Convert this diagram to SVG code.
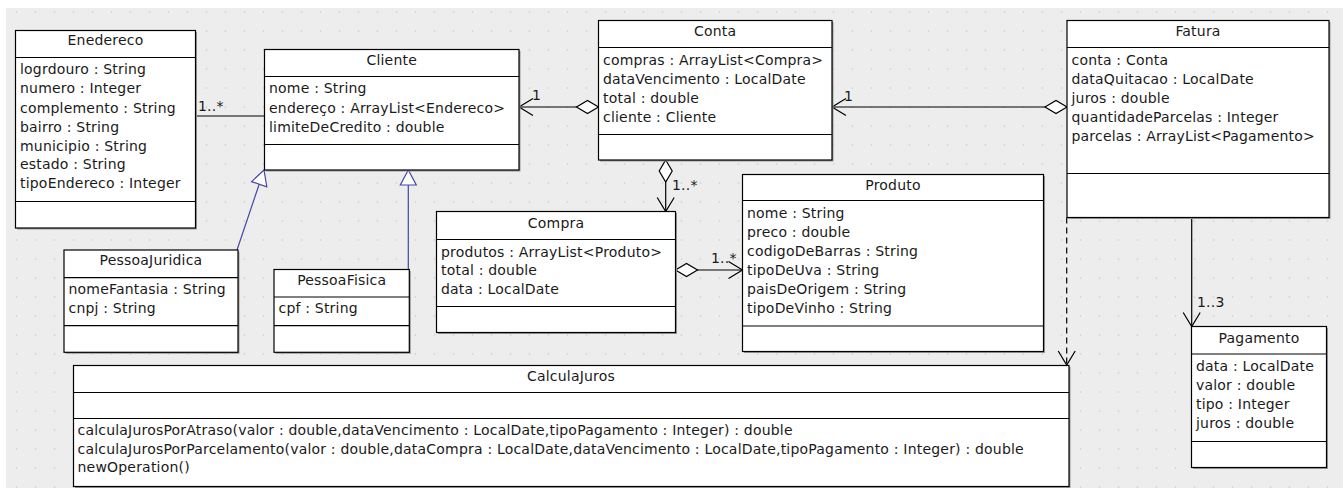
<svg xmlns="http://www.w3.org/2000/svg" width="1343" height="488" viewBox="0 0 1343 488">
<style>
text{font-family:"DejaVu Sans","Liberation Sans",sans-serif;font-size:14px;fill:#1a1a1a;letter-spacing:0.2px}
.title{text-anchor:middle}
.box{fill:#fff;stroke:#000;stroke-width:1.2}
.sh{fill:#9a9a9a}
.sep{stroke:#000;stroke-width:1.2}
.conn{fill:none;stroke:#000;stroke-width:1.2}
.gen{fill:none;stroke:#4646a8;stroke-width:1.2}
.dash{stroke-dasharray:6 4}
</style>
<defs>
<pattern id="grid" patternUnits="userSpaceOnUse" width="19" height="19">
<circle cx="16.5" cy="12" r="0.8" fill="#c9c9c9"/>
</pattern>
<marker id="open" markerUnits="userSpaceOnUse" viewBox="-16 -10 20 20" markerWidth="20" markerHeight="20" refX="0" refY="0" orient="auto">
<path d="M-14,-8.5 L0,0 L-14,8.5" fill="none" stroke="#000" stroke-width="1.2"/>
</marker>
<marker id="diamond" markerUnits="userSpaceOnUse" viewBox="-2 -10 26 20" markerWidth="26" markerHeight="20" refX="0" refY="0" orient="auto">
<path d="M0,0 L11,-6.5 L22,0 L11,6.5 Z" fill="#fff" stroke="#000" stroke-width="1.2"/>
</marker>
<marker id="tri" markerUnits="userSpaceOnUse" viewBox="-18 -10 20 20" markerWidth="20" markerHeight="20" refX="0" refY="0" orient="auto">
<path d="M0,0 L-15,-8 L-15,8 Z" fill="#fff" stroke="#4646a8" stroke-width="1.2"/>
</marker>
</defs>
<rect x="0" y="0" width="1343" height="488" fill="#fff"/>
<rect x="6" y="8" width="1337" height="480" fill="#ededed"/>
<rect x="6" y="8" width="1337" height="480" fill="url(#grid)"/>

<g id="connectors">
<line class="conn" x1="196" y1="116" x2="264.5" y2="116"/>
<text x="198" y="111">1..*</text>
<line class="conn" x1="598.5" y1="107" x2="519" y2="107" marker-start="url(#diamond)" marker-end="url(#open)"/>
<text x="532" y="100">1</text>
<line class="conn" x1="1067" y1="107" x2="832" y2="107" marker-start="url(#diamond)" marker-end="url(#open)"/>
<text x="844" y="100.5">1</text>
<line class="conn" x1="665.7" y1="160" x2="665.7" y2="211.5" marker-start="url(#diamond)" marker-end="url(#open)"/>
<text x="672" y="190">1..*</text>
<line class="conn" x1="675.5" y1="270" x2="742.5" y2="270" marker-start="url(#diamond)" marker-end="url(#open)"/>
<text x="711" y="263">1..*</text>
<line class="conn" x1="1191.7" y1="217.5" x2="1191.7" y2="326.5" marker-end="url(#open)"/>
<text x="1197" y="306.5">1..3</text>
<line class="conn dash" x1="1066.7" y1="217.5" x2="1066.7" y2="365" marker-end="url(#open)"/>
<line class="gen" x1="237" y1="250" x2="264" y2="170" marker-end="url(#tri)"/>
<line class="gen" x1="408.3" y1="269.5" x2="408.3" y2="170" marker-end="url(#tri)"/>
</g>

<g id="enedereco">
<rect class="sh" x="17" y="32" width="180" height="197.5"/>
<rect class="box" x="15.5" y="30.5" width="180" height="197.5"/>
<line class="sep" x1="15.5" y1="57.5" x2="195.5" y2="57.5"/>
<line class="sep" x1="15.5" y1="201.5" x2="195.5" y2="201.5"/>
<text class="title" x="105.5" y="45">Enedereco</text>
<text x="20" y="74">logrdouro : String</text>
<text x="20" y="93">numero : Integer</text>
<text x="20" y="112.5">complemento : String</text>
<text x="20" y="131.5">bairro : String</text>
<text x="20" y="150.5">municipio : String</text>
<text x="20" y="169">estado : String</text>
<text x="20" y="188">tipoEndereco : Integer</text>
</g>

<g id="cliente">
<rect class="sh" x="266" y="51" width="254.5" height="120.5"/>
<rect class="box" x="264.5" y="49.5" width="254.5" height="120.5"/>
<line class="sep" x1="264.5" y1="76.5" x2="519" y2="76.5"/>
<line class="sep" x1="264.5" y1="144.5" x2="519" y2="144.5"/>
<text class="title" x="391.7" y="65">Cliente</text>
<text x="269" y="93">nome : String</text>
<text x="269" y="112.5">endereço : ArrayList&lt;Endereco&gt;</text>
<text x="269" y="131.5">limiteDeCredito : double</text>
</g>

<g id="conta">
<rect class="sh" x="600" y="22" width="233.5" height="139.5"/>
<rect class="box" x="598.5" y="20.5" width="233.5" height="139.5"/>
<line class="sep" x1="598.5" y1="47.5" x2="832" y2="47.5"/>
<line class="sep" x1="598.5" y1="134.5" x2="832" y2="134.5"/>
<text class="title" x="715.2" y="36">Conta</text>
<text x="603" y="65">compras : ArrayList&lt;Compra&gt;</text>
<text x="603" y="84">dataVencimento : LocalDate</text>
<text x="603" y="103">total : double</text>
<text x="603" y="122">cliente : Cliente</text>
</g>

<g id="fatura">
<rect class="sh" x="1068.5" y="22" width="262" height="197"/>
<rect class="box" x="1067" y="20.5" width="262" height="197"/>
<line class="sep" x1="1067" y1="47.5" x2="1329" y2="47.5"/>
<line class="sep" x1="1067" y1="173.5" x2="1329" y2="173.5"/>
<text class="title" x="1198" y="36">Fatura</text>
<text x="1071.5" y="64.5">conta : Conta</text>
<text x="1071.5" y="83.5">dataQuitacao : LocalDate</text>
<text x="1071.5" y="102.5">juros : double</text>
<text x="1071.5" y="121.5">quantidadeParcelas : Integer</text>
<text x="1071.5" y="140.5">parcelas : ArrayList&lt;Pagamento&gt;</text>
</g>

<g id="compra">
<rect class="sh" x="438" y="213" width="239" height="121"/>
<rect class="box" x="436.5" y="211.5" width="239" height="121"/>
<line class="sep" x1="436.5" y1="239.5" x2="675.5" y2="239.5"/>
<line class="sep" x1="436.5" y1="306.5" x2="675.5" y2="306.5"/>
<text class="title" x="556" y="228">Compra</text>
<text x="441" y="256.7">produtos : ArrayList&lt;Produto&gt;</text>
<text x="441" y="275">total : double</text>
<text x="441" y="294">data : LocalDate</text>
</g>

<g id="produto">
<rect class="sh" x="744" y="176" width="301" height="177"/>
<rect class="box" x="742.5" y="174.5" width="301" height="177"/>
<line class="sep" x1="742.5" y1="200.5" x2="1043.5" y2="200.5"/>
<line class="sep" x1="742.5" y1="326" x2="1043.5" y2="326"/>
<text class="title" x="893" y="189.5">Produto</text>
<text x="747" y="218.3">nome : String</text>
<text x="747" y="237.3">preco : double</text>
<text x="747" y="256">codigoDeBarras : String</text>
<text x="747" y="275.3">tipoDeUva : String</text>
<text x="747" y="294.3">paisDeOrigem : String</text>
<text x="747" y="313.3">tipoDeVinho : String</text>
</g>

<g id="pagamento">
<rect class="sh" x="1193" y="328" width="135" height="141"/>
<rect class="box" x="1191.5" y="326.5" width="135" height="141"/>
<line class="sep" x1="1191.5" y1="354" x2="1326.5" y2="354"/>
<line class="sep" x1="1191.5" y1="441.5" x2="1326.5" y2="441.5"/>
<text class="title" x="1259" y="342.5">Pagamento</text>
<text x="1196" y="370.7">data : LocalDate</text>
<text x="1196" y="389.5">valor : double</text>
<text x="1196" y="408.5">tipo : Integer</text>
<text x="1196" y="427.5">juros : double</text>
</g>

<g id="pessoajuridica">
<rect class="sh" x="65.5" y="251.5" width="174" height="102.3"/>
<rect class="box" x="64" y="250" width="174" height="102.3"/>
<line class="sep" x1="64" y1="277.7" x2="238" y2="277.7"/>
<line class="sep" x1="64" y1="325.7" x2="238" y2="325.7"/>
<text class="title" x="151" y="265">PessoaJuridica</text>
<text x="68.5" y="294">nomeFantasia : String</text>
<text x="68.5" y="313">cnpj : String</text>
</g>

<g id="pessoafisica">
<rect class="sh" x="275.5" y="271" width="135.3" height="82.8"/>
<rect class="box" x="274" y="269.5" width="135.3" height="82.8"/>
<line class="sep" x1="274" y1="297" x2="409.3" y2="297"/>
<line class="sep" x1="274" y1="325.7" x2="409.3" y2="325.7"/>
<text class="title" x="341.7" y="284.5">PessoaFisica</text>
<text x="278.5" y="313">cpf : String</text>
</g>

<g id="calculajuros">
<rect class="sh" x="75" y="367" width="995.5" height="121"/>
<rect class="box" x="73.5" y="365.5" width="995.5" height="121"/>
<line class="sep" x1="73.5" y1="392.5" x2="1069" y2="392.5"/>
<line class="sep" x1="73.5" y1="418.5" x2="1069" y2="418.5"/>
<text class="title" x="571" y="381">CalculaJuros</text>
<text x="77.5" y="435">calculaJurosPorAtraso(valor : double,dataVencimento : LocalDate,tipoPagamento : Integer) : double</text>
<text x="77.5" y="453.5">calculaJurosPorParcelamento(valor : double,dataCompra : LocalDate,dataVencimento : LocalDate,tipoPagamento : Integer) : double</text>
<text x="77.5" y="472">newOperation()</text>
</g>
</svg>
